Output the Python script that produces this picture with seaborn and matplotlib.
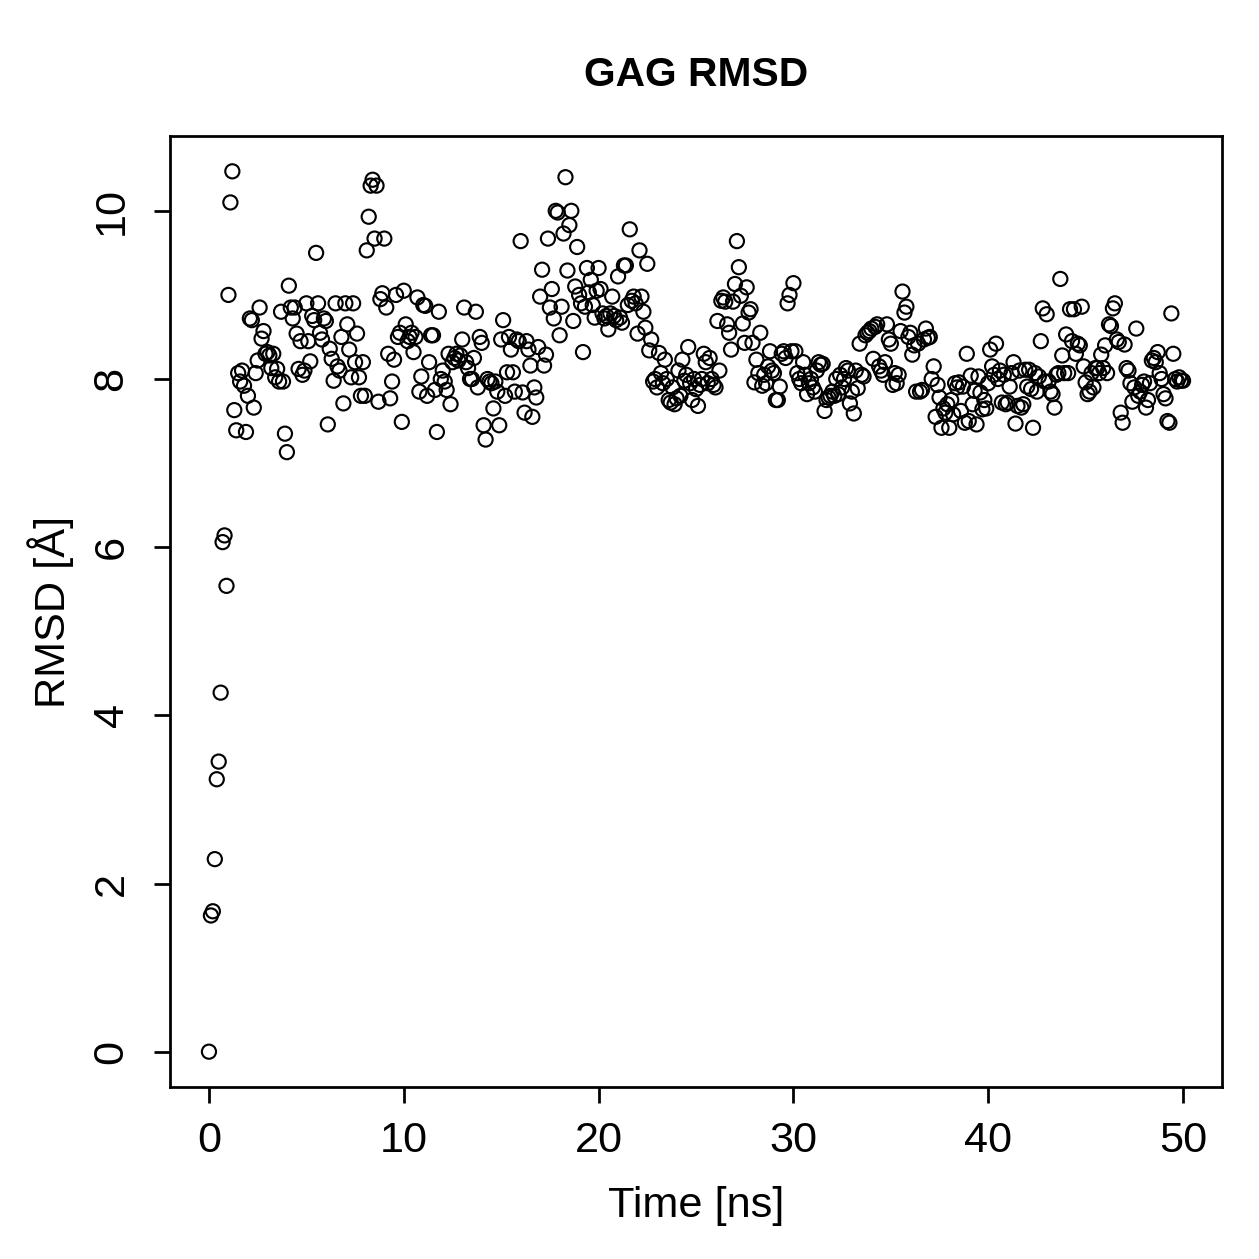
import numpy as np
import pandas as pd
import seaborn as sns
import matplotlib.pyplot as plt

# RMSD values, one per 0.1 ns (10 per ns block)
rmsd_blocks = [
    [0.00, 1.62, 1.67, 2.29, 3.24, 3.45, 4.27, 6.06, 6.14, 5.54],
    [9.00, 10.10, 10.47, 7.63, 7.39, 8.07, 7.97, 8.10, 7.92, 7.37],
    [7.80, 8.72, 8.70, 7.66, 8.07, 8.22, 8.85, 8.48, 8.57, 8.30],
    [8.32, 8.28, 8.13, 8.30, 8.02, 8.12, 7.97, 8.80, 7.97, 7.35],
    [7.13, 9.11, 8.85, 8.72, 8.85, 8.54, 8.12, 8.45, 8.05, 8.10],
    [8.90, 8.45, 8.21, 8.75, 8.70, 9.50, 8.90, 8.55, 8.47, 8.72],
    [8.69, 7.46, 8.36, 8.24, 7.98, 8.90, 8.15, 8.10, 8.50, 7.71],
    [8.90, 8.65, 8.35, 8.02, 8.90, 8.20, 8.54, 8.02, 7.80, 8.20],
    [7.80, 9.53, 9.93, 10.30, 10.37, 9.67, 10.30, 7.73, 8.95, 9.02],
    [9.67, 8.85, 8.30, 7.77, 7.97, 8.23, 9.00, 8.50, 8.55, 7.49],
    [9.05, 8.65, 8.45, 8.50, 8.55, 8.32, 8.50, 8.97, 7.85, 8.03],
    [8.88, 8.87, 7.80, 8.20, 8.52, 8.52, 7.87, 7.37, 8.80, 8.00],
    [8.10, 7.97, 7.87, 8.30, 7.70, 8.20, 8.25, 8.30, 8.22, 8.28],
    [8.47, 8.85, 8.20, 8.13, 8.00, 8.00, 8.25, 8.80, 7.90, 8.50],
    [8.43, 7.45, 7.28, 8.00, 7.97, 7.95, 7.65, 7.97, 7.85, 7.45],
    [8.47, 8.70, 7.80, 8.08, 8.50, 8.35, 8.08, 7.85, 8.47, 8.45],
    [9.64, 7.84, 7.60, 8.45, 8.35, 8.16, 7.55, 7.90, 7.78, 8.38],
    [8.98, 9.30, 8.16, 8.29, 9.67, 8.85, 9.07, 8.72, 10.00, 9.98],
    [8.52, 8.86, 9.73, 10.40, 9.29, 9.83, 10.00, 8.69, 9.10, 9.57],
    [9.00, 8.90, 8.32, 8.86, 9.32, 9.03, 9.18, 8.88, 8.73, 9.05],
    [9.32, 9.07, 8.78, 8.72, 8.75, 8.59, 8.78, 8.98, 8.75, 8.70],
    [9.22, 8.73, 8.67, 9.35, 9.35, 8.88, 9.78, 8.93, 8.98, 8.90],
    [8.54, 9.53, 8.98, 8.80, 8.61, 9.37, 8.34, 8.47, 7.97, 8.00],
    [7.90, 8.31, 8.07, 7.95, 8.23, 8.00, 7.75, 7.72, 7.90, 7.70],
    [7.77, 8.10, 7.80, 8.23, 7.98, 8.05, 8.38, 7.95, 7.75, 8.00],
    [7.88, 7.68, 7.93, 8.00, 8.30, 8.20, 7.95, 8.25, 8.00, 7.93],
    [7.90, 8.69, 8.10, 8.93, 8.97, 8.92, 8.65, 8.55, 8.35, 8.92],
    [9.13, 9.64, 9.33, 8.99, 8.66, 8.43, 9.09, 8.79, 8.83, 8.43],
    [7.96, 8.23, 8.07, 8.55, 7.92, 8.05, 7.95, 8.15, 8.33, 8.10],
    [8.07, 7.75, 7.75, 7.91, 8.30, 8.33, 8.25, 8.90, 9.00, 8.33],
    [9.14, 8.33, 8.07, 8.00, 7.95, 8.20, 8.05, 7.82, 7.95, 8.00],
    [7.90, 7.85, 8.10, 8.20, 8.17, 8.18, 7.62, 7.75, 7.78, 7.80],
    [7.85, 7.80, 8.00, 7.82, 8.05, 7.90, 8.00, 8.13, 8.10, 7.71],
    [7.85, 7.59, 8.10, 7.89, 8.42, 8.05, 8.03, 8.52, 8.55, 8.57],
    [8.60, 8.24, 8.62, 8.65, 8.15, 8.10, 8.05, 8.20, 8.65, 8.47],
    [8.42, 7.93, 8.07, 7.95, 8.05, 8.57, 9.04, 8.79, 8.86, 8.50],
    [8.55, 8.29, 8.40, 7.85, 8.42, 7.85, 7.87, 8.47, 8.60, 8.49],
    [8.50, 8.00, 8.15, 7.55, 7.93, 7.78, 7.42, 7.65, 7.60, 7.70],
    [7.42, 7.75, 7.58, 7.95, 7.90, 7.96, 7.62, 7.91, 7.48, 8.30],
    [7.50, 8.04, 7.70, 7.86, 7.46, 8.03, 7.84, 7.64, 7.75, 7.65],
    [7.95, 8.35, 8.15, 8.05, 8.42, 8.00, 8.10, 7.72, 8.05, 7.70],
    [7.72, 7.91, 8.07, 8.20, 7.47, 7.68, 8.10, 7.66, 7.70, 8.11],
    [7.91, 8.11, 7.88, 7.42, 8.07, 7.85, 8.03, 8.45, 8.84, 7.97],
    [8.77, 7.97, 7.85, 7.82, 7.66, 8.05, 8.07, 9.19, 8.28, 8.07],
    [8.53, 8.07, 8.83, 8.45, 8.83, 8.30, 8.42, 8.40, 8.86, 8.15],
    [7.96, 7.82, 7.85, 8.07, 7.90, 8.13, 8.13, 8.07, 8.29, 8.13],
    [8.40, 8.07, 8.65, 8.63, 8.84, 8.90, 8.47, 8.44, 7.60, 7.48],
    [8.41, 8.13, 8.10, 7.95, 7.73, 7.90, 8.60, 7.80, 7.85, 7.93],
    [7.97, 7.66, 7.75, 7.95, 8.22, 8.25, 8.20, 8.32, 8.07, 8.00],
    [7.82, 7.77, 7.50, 7.48, 8.78, 8.30, 8.00, 7.97, 8.02, 7.98],
    [7.98],
]
rmsd = [v for block in rmsd_blocks for v in block]
time_ns = np.arange(len(rmsd)) * 0.1

df = pd.DataFrame({"time": time_ns, "rmsd": rmsd})

sns.set_style("ticks")
plt.rcParams['font.family'] = ['Liberation Sans', 'DejaVu Sans']
plt.rcParams['text.color'] = 'black'
plt.rcParams['axes.labelcolor'] = 'black'

fig = plt.figure(figsize=(1259 / 180, 1259 / 180), dpi=180)
ax = fig.add_axes([170 / 1259, 1 - 1087 / 1259, (1222 - 170) / 1259, (1087 - 136) / 1259])

sns.scatterplot(data=df, x="time", y="rmsd", ax=ax, s=32,
                facecolors="none", edgecolor="black", linewidth=0.85)

ax.set_xlim(-2, 52)
ax.set_ylim(-0.42, 10.89)
ax.set_xticks([0, 10, 20, 30, 40, 50])
ax.set_yticks([0, 2, 4, 6, 8, 10])

for sp in ax.spines.values():
    sp.set_visible(True)
    sp.set_linewidth(1.1)
    sp.set_color("black")

ax.tick_params(axis="both", direction="out", length=6.4, width=1.1,
               labelsize=17.3, colors="black")
ax.tick_params(axis="x", pad=7)
ax.tick_params(axis="y", pad=9, labelrotation=90)
for lab in ax.get_yticklabels():
    lab.set_va("center")

ax.set_xlabel("Time [ns]", fontsize=17.3, labelpad=10, color="black")
ax.set_ylabel("RMSD [Å]", fontsize=17.3, labelpad=7, color="black")
ax.set_title("GAG RMSD", fontsize=16.3, fontweight="bold", pad=20, color="black")

fig.savefig("out.png", dpi=180)
